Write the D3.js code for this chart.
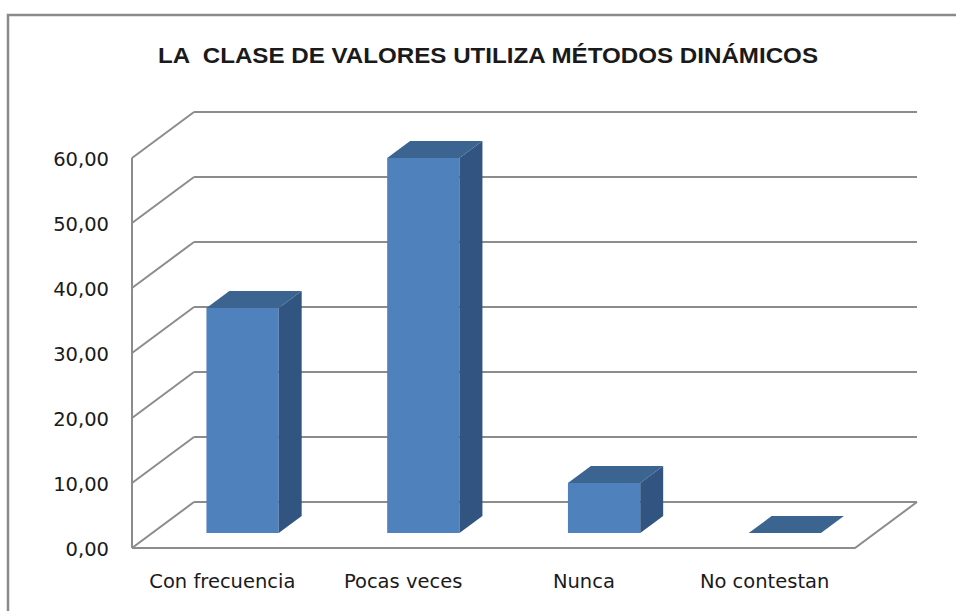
<!DOCTYPE html>
<html>
<head>
<meta charset="utf-8">
<script src="https://cdn.jsdelivr.net/npm/d3@7"></script>
<style>
  html, body { margin: 0; padding: 0; background: #fff; }
  svg { display: block; }
  text { font-family: "DejaVu Sans", "Liberation Sans", sans-serif; fill: #1a1a1a; }
  .title { font-family: "Liberation Sans", Arial, sans-serif; white-space: pre; }
</style>
</head>
<body>
<svg id="chart" width="956" height="611"></svg>
<script>
// Data
const title = "LA  CLASE DE VALORES UTILIZA MÉTODOS DINÁMICOS";
const categories = ["Con frecuencia", "Pocas veces", "Nunca", "No contestan"];
const values = [34.62, 57.69, 7.69, 0];
const yTicks = [0, 10, 20, 30, 40, 50, 60];

const width = 956, height = 611;
const svg = d3.select("#chart");

// 3D depth offset of the back wall
const DX = 62, DY = 46;
// bar sits between these depth fractions
const barFront = 0.326, barBack = 0.696;

const x = d3.scaleBand()
  .domain(categories)
  .range([132, 855])
  .paddingInner(0.6)
  .paddingOuter(0.3);

const y = d3.scaleLinear().domain([0, 60]).range([548, 158]);

const fmt = (v) => d3.format(".2f")(v).replace(".", ",");

// project a front-plane point back by depth fraction d
const P = (px, py, d) => [px + DX * d, py - DY * d];
const poly = (pts) => "M" + pts.map((p) => p.join(",")).join("L") + "Z";

// Outer chart border
svg.append("rect")
  .attr("x", 8).attr("y", 15)
  .attr("width", width).attr("height", height)
  .attr("fill", "none")
  .attr("stroke", "#8a8a8a")
  .attr("stroke-width", 2.5);

// Title
svg.append("text")
  .attr("class", "title")
  .attr("x", 488).attr("y", 63)
  .attr("text-anchor", "middle")
  .attr("font-weight", "bold")
  .attr("font-size", 22)
  .attr("textLength", 660)
  .attr("lengthAdjust", "spacingAndGlyphs")
  .text(title);

const grid = svg.append("g")
  .attr("stroke", "#8c8c8c")
  .attr("stroke-width", 2)
  .attr("fill", "none");

const x0 = x.range()[0], x1 = x.range()[1];

// back wall gridlines + side wall diagonals
yTicks.forEach((t) => {
  const a = P(x0, y(t), 1), b = P(x1, y(t), 1);
  grid.append("line")
    .attr("x1", a[0]).attr("y1", a[1])
    .attr("x2", b[0]).attr("y2", b[1]);
  grid.append("line")
    .attr("x1", x0).attr("y1", y(t))
    .attr("x2", a[0]).attr("y2", a[1]);
});

// front vertical axis
grid.append("line")
  .attr("x1", x0).attr("y1", y(0))
  .attr("x2", x0).attr("y2", y(60));

// floor front edge and right edge
grid.append("path")
  .attr("d", "M" + [x0, y(0)] + "L" + [x1, y(0)] + "L" + P(x1, y(0), 1));

// Y axis labels
svg.append("g")
  .selectAll("text")
  .data(yTicks)
  .join("text")
  .attr("x", 109)
  .attr("y", (d) => y(d) + 8)
  .attr("text-anchor", "end")
  .attr("font-size", 19.5)
  .text(fmt);

// Bars
const bars = svg.append("g")
  .selectAll("g")
  .data(categories.map((c, i) => ({ c, v: values[i] })))
  .join("g");

bars.each(function (d) {
  const g = d3.select(this);
  const l = x(d.c), r = x(d.c) + x.bandwidth();
  const yb = y(0), yt = y(d.v);
  const fl = P(l, yb, barFront), fr = P(r, yb, barFront);
  const tl = P(l, yt, barFront), tr = P(r, yt, barFront);
  const btl = P(l, yt, barBack), btr = P(r, yt, barBack);
  const bbr = P(r, yb, barBack);

  if (d.v > 0) {
    g.append("path")
      .attr("d", poly([fl, fr, tr, tl]))
      .attr("fill", "#4f81bd");
    g.append("path")
      .attr("d", poly([fr, bbr, btr, tr]))
      .attr("fill", "#325480");
  }
  g.append("path")
    .attr("d", poly([tl, tr, btr, btl]))
    .attr("fill", "#3c6491");
});

// Category labels
svg.append("g")
  .selectAll("text")
  .data(categories)
  .join("text")
  .attr("x", (d) => x(d) + x.bandwidth() / 2)
  .attr("y", 588)
  .attr("text-anchor", "middle")
  .attr("font-size", 19.5)
  .text((d) => d);
</script>
</body>
</html>
